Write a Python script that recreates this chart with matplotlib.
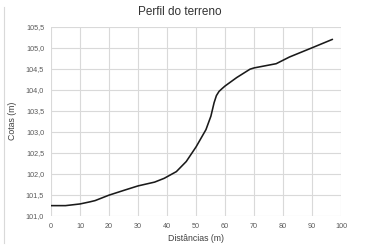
import numpy as np
import matplotlib.pyplot as plt
from matplotlib.ticker import FuncFormatter
from matplotlib.lines import Line2D

# terrain profile
dist = [0, 5, 10, 13.4, 15.2, 20, 25.4, 30, 35.7, 39, 43.2, 46.6, 50,
        53.4, 55.1, 56.2, 57.0, 57.9, 59.0, 60, 64, 68.6, 70, 77.6, 82.2,
        90, 97]
cota = [101.24, 101.24, 101.28, 101.33, 101.36, 101.49, 101.61, 101.71,
        101.80, 101.89, 102.05, 102.29, 102.64, 103.05, 103.37, 103.69,
        103.86, 103.96, 104.03, 104.09, 104.29, 104.49, 104.52, 104.62,
        104.78, 105.0, 105.2]

x_ticks = np.arange(0, 101, 10)
y_ticks = np.arange(101.0, 105.51, 0.5)

font = 'Liberation Sans'
grey = '#595959'

fig = plt.figure(figsize=(3.9, 2.47), dpi=100)
ax = fig.add_axes([0.1308, 0.1267, 0.744, 0.765])

ax.plot(dist, cota, color='#1a1a1a', lw=1.15, solid_capstyle='round',
        solid_joinstyle='round')

ax.set_xlim(0, 100)
ax.set_ylim(101.0, 105.5)
ax.set_xticks(x_ticks)
ax.set_yticks(y_ticks)
ax.yaxis.set_major_formatter(FuncFormatter(lambda v, p: f'{v:.1f}'.replace('.', ',')))
ax.grid(True, color='#d9d9d9', lw=0.8)
ax.set_axisbelow(True)
for s in ax.spines.values():
    s.set_visible(False)
ax.tick_params(length=0, labelsize=5.2, colors=grey, pad=5)
for lbl in ax.get_xticklabels() + ax.get_yticklabels():
    lbl.set_fontfamily(font)

ax.set_xlabel('Distâncias (m)', fontsize=6.3, color='#404040', family=font, labelpad=3)
ax.set_ylabel('Cotas (m)', fontsize=6.3, color='#404040', family=font, labelpad=6)
fig.text(0.462, 0.95, 'Perfil do terreno', ha='center', va='center',
         fontsize=8.5, color='#333333', family=font)

# left border of the chart area
fig.add_artist(Line2D([0.011, 0.011], [0.015, 0.97], color='#d9d9d9', lw=0.8))

fig.savefig('out.png', dpi=100)
